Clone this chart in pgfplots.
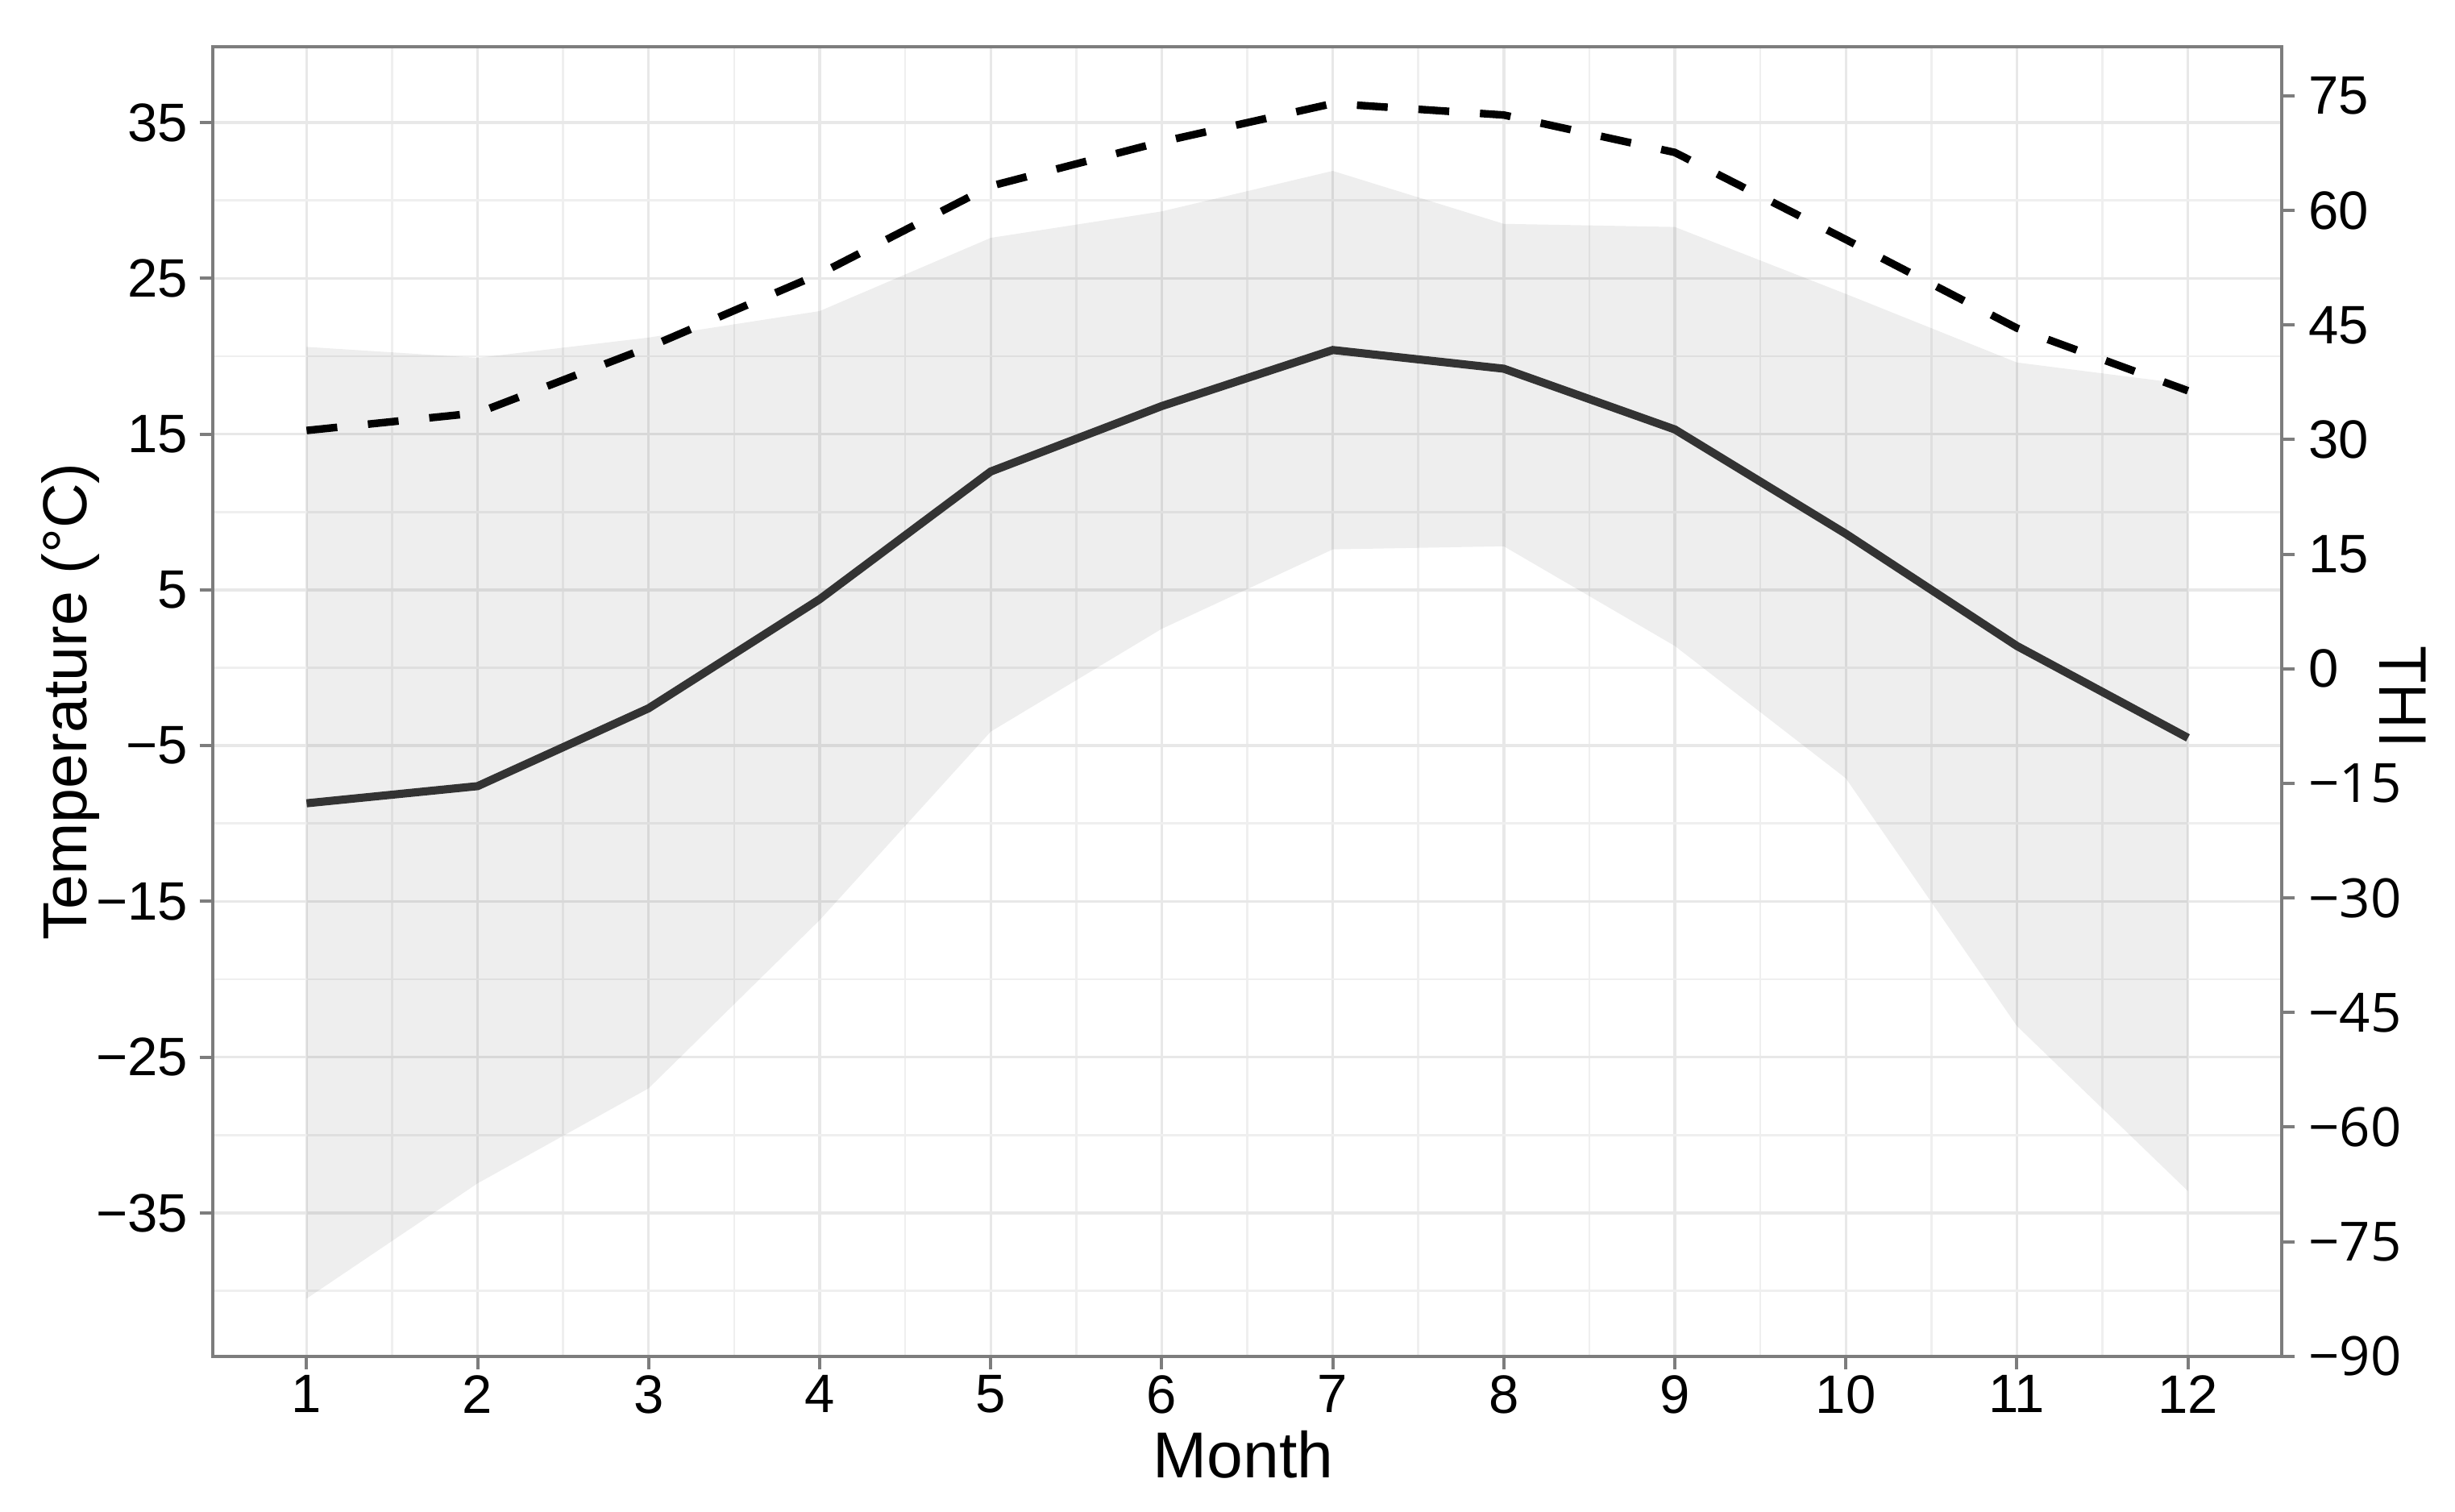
\documentclass[border=0pt]{standalone}
\usepackage{pgfplots}
\pgfplotsset{compat=1.18}
\usepackage{fontspec}
\setmainfont{Liberation Sans}
\newfontfamily\rfont{Open Sans}
\definecolor{gridc}{RGB}{232,232,232}
\definecolor{framec}{RGB}{125,125,125}
\definecolor{linec}{RGB}{51,51,51}

\pgfplotsset{
  base/.style={
    scale only axis, width=382.7pt, height=242.1pt,
    xmin=0.45, xmax=12.55, clip=false,
    tick align=outside, major tick length=2.4pt, minor tick length=0pt,
    tick style={framec, line width=0.6pt},
    axis line style={framec, line width=0.6pt},
    /pgf/number format/assume math mode=true,
  }
}
\newcommand\tickfont{\fontsize{10}{11}\selectfont}
\newcommand\labfont{\fontsize{11.5}{13}\selectfont}

\begin{document}
\begin{tikzpicture}
\path[use as bounding box] (-39.3pt,-28.8pt) rectangle (414.7pt,250.8pt);

% temperature axis (left)
\begin{axis}[base,
  ymin=-44.2, ymax=39.85,
  xtick={1,...,12}, minor xtick={1.5,2.5,...,11.5},
  ytick={-35,-25,...,35}, yticklabels={−35,−25,−15,−5,5,15,25,35},
  minor ytick={-40,-30,...,30},
  grid=both,
  major grid style={gridc, line width=0.5pt},
  minor grid style={gridc!70, line width=0.4pt},
  tick pos=left,
  ticklabel style={font=\tickfont},
  xticklabel style={yshift=2.4pt},
  yticklabel style={xshift=1.4pt},
]
  % range band
  \addplot[draw=none, fill=black, fill opacity=0.065] coordinates {
    (1,20.6) (2,19.9) (3,21.2) (4,22.9) (5,27.6) (6,29.3)
    (7,31.9) (8,28.5) (9,28.3) (10,24.0) (11,19.6) (12,18.2)
    (12,-33.6) (11,-23.0) (10,-7.1) (9,1.4) (8,7.8) (7,7.6)
    (6,2.5) (5,-4.1) (4,-16.2) (3,-27.0) (2,-33.1) (1,-40.5)
  } -- cycle;
  % mean temperature
  \addplot[linec, line width=1.5pt] coordinates {
    (1,-8.7) (2,-7.6) (3,-2.6) (4,4.4) (5,12.6) (6,16.8)
    (7,20.4) (8,19.2) (9,15.3) (10,8.6) (11,1.4) (12,-4.5)
  };
  \node[rotate=90, font=\labfont] at (axis description cs:-0.0685,0.5) {Temperature (°C)};
  \node[font=\fontsize{12}{14}\selectfont] at (axis description cs:0.498,-0.075) {Month};
\end{axis}

% THI axis (right)
\begin{axis}[base,
  ymin=-90, ymax=81.4,
  axis x line=none, axis y line*=right,
  ytick={-90,-75,...,75},
  yticklabels={{\rfont −90},{\rfont −75},{\rfont −60},{\rfont −45},{\rfont −30},{\rfont −15},0,15,30,45,60,75},
  yticklabel style={font=\tickfont, xshift=-1pt},
]
  \addplot[black, line width=1.4pt, dash pattern=on 5.7pt off 5.7pt] coordinates {
    (1,31.2) (2,33.5) (3,42.1) (4,51.7) (5,63.2) (6,69.0)
    (7,74.0) (8,72.5) (9,67.6) (10,56.2) (11,44.6) (12,36.4)
  };
  \node[rotate=-90, font=\rfont\fontsize{12}{14}\selectfont] at (axis description cs:1.0585,0.503) {THI};
\end{axis}
\end{tikzpicture}
\end{document}
